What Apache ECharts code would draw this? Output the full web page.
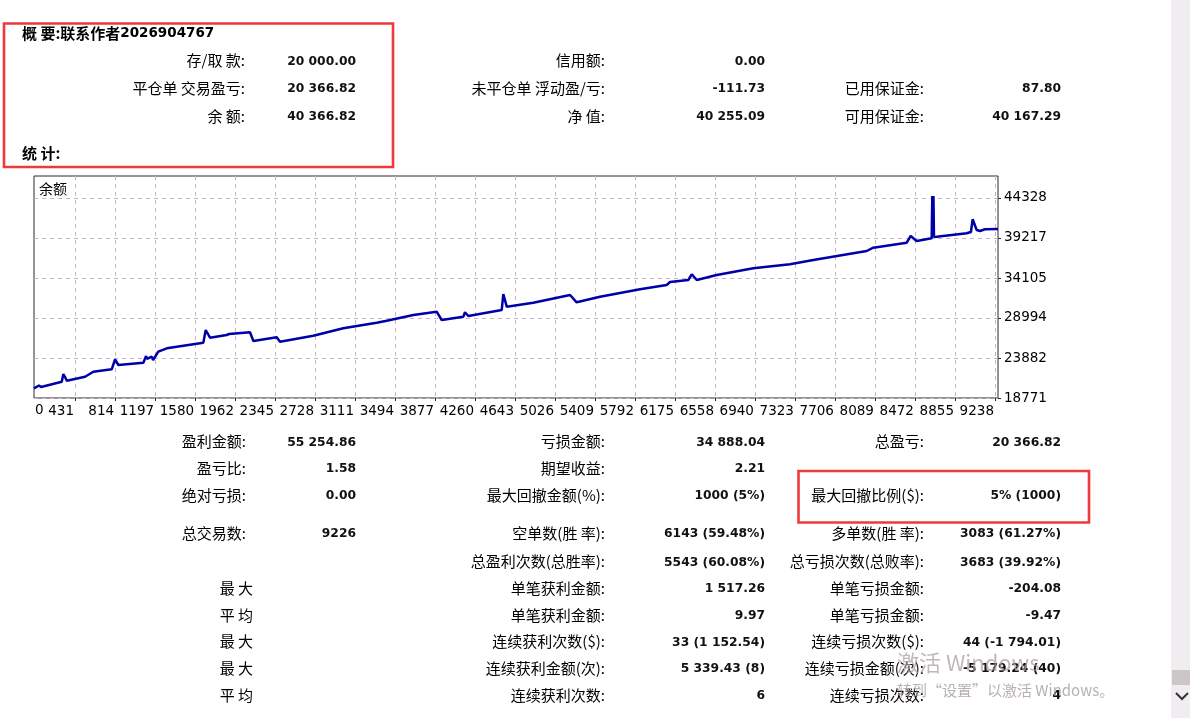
<!DOCTYPE html>
<html>
<head>
<meta charset="utf-8">
<script src="https://cdn.jsdelivr.net/npm/echarts@6/dist/echarts.min.js"></script>
<style>
html,body{margin:0;padding:0;background:#fff;}
#c{width:1190px;height:718px;}
</style>
</head>
<body>
<div id="c"></div>
<script>
// ---- chart data ----
const trades = [38, 86, 106, 304, 319, 335, 352, 527, 606, 782, 800, 814, 846, 1085, 1111, 1120, 1133, 1165, 1178, 1197, 1228, 1309, 1659, 1682, 1694, 1723, 1883, 1905, 2106, 2138, 2362, 2393, 2712, 2999, 3319, 3415, 3670, 3893, 3941, 4148, 4164, 4196, 4516, 4531, 4564, 4818, 5170, 5233, 5457, 5840, 6095, 6127, 6302, 6335, 6383, 6574, 6924, 7276, 7499, 8010, 8073, 8393, 8431, 8488, 8632, 8638, 8644, 8649, 8654, 8680, 8967, 9008, 9024, 9037, 9063, 9095, 9142, 9267];
const balance = [20010, 20368, 20177, 20854, 21838, 21454, 20982, 21493, 22132, 22438, 22500, 23716, 22988, 23282, 24138, 23755, 23627, 24049, 23627, 23538, 24687, 25122, 25838, 27460, 27205, 26476, 26821, 26949, 27166, 26055, 26528, 25965, 26732, 27678, 28393, 28649, 29377, 29799, 28738, 29160, 29722, 29249, 30016, 32060, 30438, 30949, 31933, 30999, 31716, 32661, 33211, 33594, 33850, 34578, 33850, 34489, 35345, 35856, 36405, 37556, 37977, 38616, 39472, 38833, 39178, 44584, 42795, 44584, 39345, 39383, 39817, 39983, 41606, 41517, 40239, 40111, 40328, 40367];
const xTickLabels = [431, 814, 1197, 1580, 1962, 2345, 2728, 3111, 3494, 3877, 4260, 4643, 5026, 5409, 5792, 6175, 6558, 6940, 7323, 7706, 8089, 8472, 8855, 9238];
const yTickLabels = [18771, 23882, 28994, 34105, 39217, 44328];
const xRange = [38, 9267];
const yRange = [18771, 47139];
const chartTitle = '余额';

// ---- report texts ----
const summaryTitle = ['概 要:联系作者', '2026904767'];
const statsTitle = '统 计:';
const sumCol1 = [['存/取 款:', '20 000.00'], ['平仓单 交易盈亏:', '20 366.82'], ['余 额:', '40 366.82']];
const sumCol2 = [['信用额:', '0.00'], ['未平仓单 浮动盈/亏:', '-111.73'], ['净 值:', '40 255.09']];
const sumCol3 = [null, ['已用保证金:', '87.80'], ['可用保证金:', '40 167.29']];
const statCol1 = [['盈利金额:', '55 254.86'], ['盈亏比:', '1.58'], ['绝对亏损:', '0.00'], ['总交易数:', '9226'], null, null, null, null, null, null];
const statCol1Side = [null, null, null, null, null, '最 大', '平 均', '最 大', '最 大', '平 均'];
const statCol2 = [['亏损金额:', '34 888.04'], ['期望收益:', '2.21'], ['最大回撤金额(%):', '1000 (5%)'], ['空单数(胜 率):', '6143 (59.48%)'], ['总盈利次数(总胜率):', '5543 (60.08%)'], ['单笔获利金额:', '1 517.26'], ['单笔获利金额:', '9.97'], ['连续获利次数($):', '33 (1 152.54)'], ['连续获利金额(次):', '5 339.43 (8)'], ['连续获利次数:', '6']];
const statCol3 = [['总盈亏:', '20 366.82'], null, ['最大回撤比例($):', '5% (1000)'], ['多单数(胜 率):', '3083 (61.27%)'], ['总亏损次数(总败率):', '3683 (39.92%)'], ['单笔亏损金额:', '-204.08'], ['单笔亏损金额:', '-9.47'], ['连续亏损次数($):', '44 (-1 794.01)'], ['连续亏损金额(次):', '-5 179.24 (40)'], ['连续亏损次数:', '4']];
const watermark = ['激活 Windows', '转到“设置”以激活 Windows。'];

// ---- layout ----
const sumRowsY = [60.5, 88.3, 116];
const statRowsY = [441.5, 468, 495, 533, 561.5, 588.3, 615, 641.5, 668.3, 695];
const labelFont = '15px "Noto Sans CJK SC"';
const valueFont = 'bold 12.3px "DejaVu Sans"';

const g = [];
function txt(x, y, s, font, align, fill) {
  g.push({type: 'text', x: x, y: y, z: 10, silent: true,
    style: {text: s, font: font, align: align || 'right', verticalAlign: 'middle', fill: fill || '#000'}});
}
function col(rows, ys, lx, vx) {
  rows.forEach((r, i) => { if (!r) return; txt(lx, ys[i], r[0], labelFont); txt(vx, ys[i] + 1, r[1], valueFont, 'right', '#111'); });
}
col(sumCol1, sumRowsY, 245, 356);
col(sumCol2, sumRowsY, 605, 765);
col(sumCol3, sumRowsY, 924, 1061);
col(statCol1, statRowsY, 246, 356);
col(statCol2, statRowsY, 605, 765);
col(statCol3, statRowsY, 924, 1061);
statCol1Side.forEach((s, i) => { if (s) txt(253, statRowsY[i], s, labelFont); });

g.push({type: 'text', x: 22, y: 33, z: 10, style: {
  text: '{a|' + summaryTitle[0] + '}{b|' + summaryTitle[1] + '}', verticalAlign: 'middle', align: 'left',
  rich: {a: {font: 'bold 15px "Noto Sans CJK SC"', fill: '#000'}, b: {font: 'bold 13.5px "DejaVu Sans"', fill: '#000'}}}});
txt(22, 153, statsTitle, 'bold 15px "Noto Sans CJK SC"', 'left');
txt(39, 189, chartTitle, '14px "Noto Sans CJK SC"', 'left');
txt(35, 410.5, '0', '13.5px "DejaVu Sans"', 'left');

// red highlight boxes
g.push({type: 'rect', z: 20, shape: {x: 4, y: 23.5, width: 389, height: 143.5}, style: {fill: null, stroke: '#ee3a3a', lineWidth: 2.6}});
g.push({type: 'rect', z: 20, shape: {x: 798.5, y: 471, width: 290.5, height: 51.5}, style: {fill: null, stroke: '#ee3a3a', lineWidth: 2.6}});

// scrollbar
g.push({type: 'rect', z: 1, shape: {x: 1171, y: 0, width: 19, height: 718}, style: {fill: '#f0edf0'}});
g.push({type: 'rect', z: 2, shape: {x: 1172, y: 670, width: 18, height: 15}, style: {fill: '#cdc6c7'}});
g.push({type: 'polyline', z: 2, shape: {points: [[1176, 693], [1182, 699], [1188, 693]]}, style: {stroke: '#333', lineWidth: 2, fill: null}});

// watermark
g.push({type: 'text', x: 897, y: 663, z: 30, style: {text: watermark[0], font: '22px "Noto Sans CJK SC"', fill: 'rgba(170,160,160,0.75)', verticalAlign: 'middle', align: 'left'}});
g.push({type: 'text', x: 897, y: 690, z: 30, style: {text: watermark[1], font: '15px "Noto Sans CJK SC"', fill: 'rgba(160,150,150,0.75)', verticalAlign: 'middle', align: 'left'}});

const plain = v => String(v);
const chart = echarts.init(document.getElementById('c'), null, {renderer: 'canvas'});
chart.setOption({
  animation: false,
  backgroundColor: '#ffffff',
  grid: {left: 34, top: 176, right: 192, bottom: 320, show: true, borderColor: '#2a2a2a', borderWidth: 1, backgroundColor: '#fff'},
  xAxis: {
    type: 'value', min: xRange[0], max: xRange[1],
    axisLine: {show: false},
    axisTick: {show: true, inside: false, length: 3, customValues: xTickLabels, lineStyle: {color: '#2a2a2a'}},
    axisLabel: {customValues: xTickLabels, formatter: plain, align: 'right', margin: 6, color: '#000', fontFamily: 'DejaVu Sans', fontSize: 13.5, padding: [0, 1, 0, 0], hideOverlap: false},
    splitLine: {show: true, lineStyle: {color: '#c8b2c8', type: [4, 4], width: 1}}
  },
  yAxis: {
    type: 'value', position: 'right', min: yRange[0], max: yRange[1],
    axisLine: {show: false},
    axisTick: {show: true, inside: false, length: 3, customValues: yTickLabels, lineStyle: {color: '#2a2a2a'}},
    axisLabel: {customValues: yTickLabels, formatter: plain, margin: 6, color: '#000', fontFamily: 'DejaVu Sans', fontSize: 13.5},
    splitLine: {show: true, lineStyle: {color: '#c8b2c8', type: [4, 4], width: 1}}
  },
  series: [{
    type: 'line', symbol: 'none', data: trades.map((t, i) => [t, balance[i]]),
    lineStyle: {color: '#0000aa', width: 2.5}, z: 5
  }],
  graphic: g
});
</script>
</body>
</html>
